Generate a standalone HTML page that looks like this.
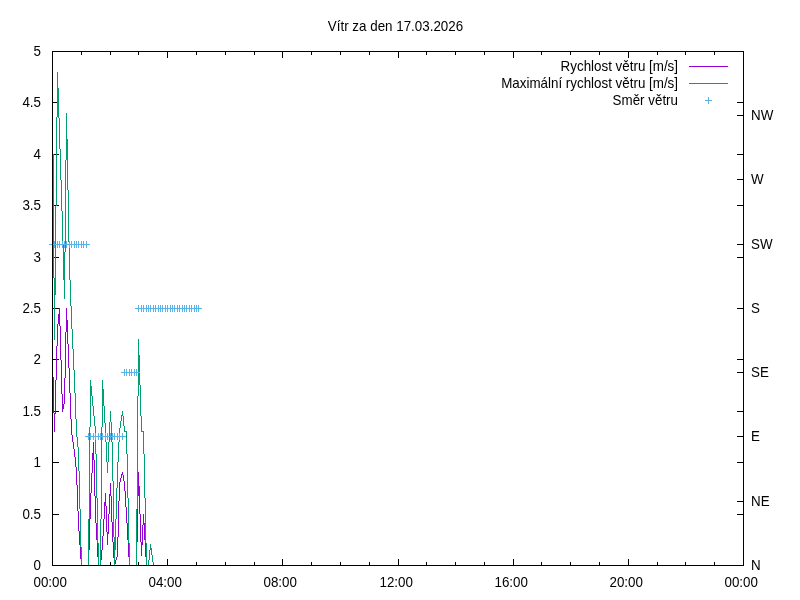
<!DOCTYPE html>
<html><head><meta charset="utf-8"><style>html,body{margin:0;padding:0;background:#fff;width:800px;height:600px;overflow:hidden}svg{display:block;will-change:transform}path{shape-rendering:crispEdges}</style></head>
<body><svg width="800" height="600" viewBox="0 0 800 600">
<rect width="800" height="600" fill="#fff"/>
<path d="M53,102h6v1h-6zM737,102h6v1h-6zM737,115h6v1h-6zM53,154h6v1h-6zM737,154h6v1h-6zM737,179h6v1h-6zM53,205h6v1h-6zM737,205h6v1h-6zM737,244h6v1h-6zM53,257h6v1h-6zM737,257h6v1h-6zM53,308h6v1h-6zM737,308h6v1h-6zM53,359h6v1h-6zM737,359h6v1h-6zM737,372h6v1h-6zM53,411h6v1h-6zM737,411h6v1h-6zM737,436h6v1h-6zM53,462h6v1h-6zM737,462h6v1h-6zM737,501h6v1h-6zM53,514h6v1h-6zM737,514h6v1h-6zM81,52h1v3h-1zM81,562h1v3h-1zM110,52h1v3h-1zM110,562h1v3h-1zM138,52h1v3h-1zM138,562h1v3h-1zM167,52h1v6h-1zM167,559h1v6h-1zM196,52h1v3h-1zM196,562h1v3h-1zM225,52h1v3h-1zM225,562h1v3h-1zM254,52h1v3h-1zM254,562h1v3h-1zM282,52h1v6h-1zM282,559h1v6h-1zM311,52h1v3h-1zM311,562h1v3h-1zM340,52h1v3h-1zM340,562h1v3h-1zM369,52h1v3h-1zM369,562h1v3h-1zM398,52h1v6h-1zM398,559h1v6h-1zM426,52h1v3h-1zM426,562h1v3h-1zM455,52h1v3h-1zM455,562h1v3h-1zM484,52h1v3h-1zM484,562h1v3h-1zM513,52h1v6h-1zM513,559h1v6h-1zM541,52h1v3h-1zM541,562h1v3h-1zM570,52h1v3h-1zM570,562h1v3h-1zM599,52h1v3h-1zM599,562h1v3h-1zM628,52h1v6h-1zM628,559h1v6h-1zM657,52h1v3h-1zM657,562h1v3h-1zM685,52h1v3h-1zM685,562h1v3h-1zM714,52h1v3h-1zM714,562h1v3h-1z" fill="#000"/>
<path d="M81,565h8v1h-8zM98,565h3v1h-3zM129,565h8v1h-8zM146,565h53v1h-53zM52,359h1v18h-1zM53,377h1v36h-1zM54,413h1v19h-1zM55,380h1v34h-1zM56,346h1v34h-1zM57,324h1v22h-1zM58,314h1v10h-1zM59,308h1v18h-1zM60,326h1v34h-1zM61,360h1v34h-1zM62,394h1v18h-1zM63,404h1v5h-1zM64,378h1v26h-1zM65,332h1v46h-1zM66,308h1v24h-1zM67,320h1v24h-1zM68,344h1v24h-1zM69,368h1v25h-1zM70,393h1v26h-1zM71,419h1v16h-1zM72,435h1v7h-1zM73,442h1v7h-1zM74,449h1v8h-1zM75,457h1v10h-1zM76,467h1v18h-1zM77,485h1v26h-1zM78,511h1v20h-1zM79,531h1v14h-1zM80,545h1v14h-1zM81,559h1v6h-1zM88,550h1v15h-1zM89,519h1v31h-1zM90,493h1v26h-1zM91,473h1v20h-1zM92,453h1v20h-1zM93,442h1v18h-1zM94,460h1v36h-1zM95,496h1v27h-1zM96,523h1v17h-1zM97,540h1v17h-1zM98,557h1v8h-1zM100,560h1v5h-1zM101,550h1v10h-1zM102,536h1v14h-1zM103,519h1v17h-1zM104,502h1v17h-1zM105,493h1v13h-1zM106,506h1v26h-1zM107,532h1v13h-1zM108,514h1v20h-1zM109,494h1v20h-1zM110,483h1v13h-1zM111,496h1v26h-1zM112,522h1v20h-1zM113,542h1v16h-1zM114,558h1v8h-1zM115,560h1v4h-1zM116,557h1v3h-1zM117,537h1v20h-1zM118,501h1v36h-1zM119,482h1v19h-1zM120,478h1v4h-1zM121,474h1v4h-1zM122,472h1v3h-1zM123,475h1v6h-1zM124,481h1v10h-1zM125,491h1v16h-1zM126,507h1v16h-1zM127,523h1v17h-1zM128,540h1v17h-1zM129,557h1v8h-1zM136,542h1v23h-1zM137,496h1v46h-1zM138,472h1v24h-1zM139,486h1v28h-1zM140,514h1v28h-1zM141,542h1v14h-1zM142,525h1v20h-1zM143,514h1v11h-1zM144,523h1v17h-1zM145,540h1v17h-1zM146,557h1v8h-1z" fill="#9400d3"/>
<path d="M124,431h3v1h-3zM141,431h3v1h-3zM81,565h8v1h-8zM98,565h3v1h-3zM129,565h8v1h-8zM146,565h3v1h-3zM153,565h46v1h-46zM52,92h1v62h-1zM53,154h1v124h-1zM54,278h1v62h-1zM55,206h1v89h-1zM56,117h1v89h-1zM57,72h1v45h-1zM58,88h1v30h-1zM59,118h1v31h-1zM60,149h1v31h-1zM61,180h1v31h-1zM62,211h1v33h-1zM63,244h1v36h-1zM64,252h1v47h-1zM65,160h1v92h-1zM66,113h1v47h-1zM67,139h1v51h-1zM68,190h1v52h-1zM69,242h1v38h-1zM70,280h1v26h-1zM71,306h1v23h-1zM72,329h1v20h-1zM73,349h1v21h-1zM74,370h1v23h-1zM75,393h1v26h-1zM76,419h1v18h-1zM77,437h1v10h-1zM78,447h1v24h-1zM79,471h1v38h-1zM80,509h1v38h-1zM81,547h1v18h-1zM88,519h1v46h-1zM89,427h1v92h-1zM90,380h1v47h-1zM91,386h1v10h-1zM92,396h1v10h-1zM93,406h1v10h-1zM94,416h1v10h-1zM95,426h1v28h-1zM96,454h1v44h-1zM97,498h1v45h-1zM98,543h1v22h-1zM100,519h1v46h-1zM101,427h1v92h-1zM102,380h1v47h-1zM103,389h1v17h-1zM104,406h1v17h-1zM105,423h1v19h-1zM106,442h1v20h-1zM107,462h1v11h-1zM108,442h1v20h-1zM109,422h1v20h-1zM110,411h1v11h-1zM111,422h1v20h-1zM112,442h1v39h-1zM113,481h1v56h-1zM114,537h1v29h-1zM115,519h1v31h-1zM116,488h1v31h-1zM117,462h1v26h-1zM118,442h1v20h-1zM119,428h1v14h-1zM120,421h1v7h-1zM121,415h1v6h-1zM122,411h1v5h-1zM123,416h1v10h-1zM124,426h1v5h-1zM126,432h1v22h-1zM127,454h1v44h-1zM128,498h1v45h-1zM129,543h1v22h-1zM136,509h1v56h-1zM137,396h1v113h-1zM138,339h1v57h-1zM139,355h1v30h-1zM140,385h1v31h-1zM141,416h1v15h-1zM143,432h1v22h-1zM144,454h1v44h-1zM145,498h1v45h-1zM146,543h1v22h-1zM148,560h1v5h-1zM149,550h1v10h-1zM150,544h1v6h-1zM151,548h1v7h-1zM152,555h1v7h-1zM153,562h1v3h-1z" fill="#009e73"/>
<path d="M49,244h41v1h-41zM135,308h67v1h-67zM121,372h19v1h-19zM85,436h41v1h-41zM52,241h1v3h-1zM52,245h1v3h-1zM54,241h1v3h-1zM54,245h1v3h-1zM57,241h1v3h-1zM57,245h1v3h-1zM59,241h1v3h-1zM59,245h1v3h-1zM62,241h1v3h-1zM62,245h1v3h-1zM64,241h1v3h-1zM64,245h1v3h-1zM66,241h1v3h-1zM66,245h1v3h-1zM69,241h1v3h-1zM69,245h1v3h-1zM71,241h1v3h-1zM71,245h1v3h-1zM74,241h1v3h-1zM74,245h1v3h-1zM76,241h1v3h-1zM76,245h1v3h-1zM78,241h1v3h-1zM78,245h1v3h-1zM81,241h1v3h-1zM81,245h1v3h-1zM83,241h1v3h-1zM83,245h1v3h-1zM86,241h1v3h-1zM86,245h1v3h-1zM88,433h1v3h-1zM88,437h1v3h-1zM90,433h1v3h-1zM90,437h1v3h-1zM93,433h1v3h-1zM93,437h1v3h-1zM95,433h1v3h-1zM95,437h1v3h-1zM98,433h1v3h-1zM98,437h1v3h-1zM100,433h1v3h-1zM100,437h1v3h-1zM102,433h1v3h-1zM102,437h1v3h-1zM105,433h1v3h-1zM105,437h1v3h-1zM107,433h1v3h-1zM107,437h1v3h-1zM110,433h1v3h-1zM110,437h1v3h-1zM112,433h1v3h-1zM112,437h1v3h-1zM114,433h1v3h-1zM114,437h1v3h-1zM117,433h1v3h-1zM117,437h1v3h-1zM119,433h1v3h-1zM119,437h1v3h-1zM122,433h1v3h-1zM122,437h1v3h-1zM124,369h1v3h-1zM124,373h1v3h-1zM126,369h1v3h-1zM126,373h1v3h-1zM129,369h1v3h-1zM129,373h1v3h-1zM131,369h1v3h-1zM131,373h1v3h-1zM134,369h1v3h-1zM134,373h1v3h-1zM136,369h1v3h-1zM136,373h1v3h-1zM138,305h1v3h-1zM138,309h1v3h-1zM141,305h1v3h-1zM141,309h1v3h-1zM143,305h1v3h-1zM143,309h1v3h-1zM146,305h1v3h-1zM146,309h1v3h-1zM148,305h1v3h-1zM148,309h1v3h-1zM150,305h1v3h-1zM150,309h1v3h-1zM153,305h1v3h-1zM153,309h1v3h-1zM155,305h1v3h-1zM155,309h1v3h-1zM158,305h1v3h-1zM158,309h1v3h-1zM160,305h1v3h-1zM160,309h1v3h-1zM162,305h1v3h-1zM162,309h1v3h-1zM165,305h1v3h-1zM165,309h1v3h-1zM167,305h1v3h-1zM167,309h1v3h-1zM170,305h1v3h-1zM170,309h1v3h-1zM172,305h1v3h-1zM172,309h1v3h-1zM174,305h1v3h-1zM174,309h1v3h-1zM177,305h1v3h-1zM177,309h1v3h-1zM179,305h1v3h-1zM179,309h1v3h-1zM182,305h1v3h-1zM182,309h1v3h-1zM184,305h1v3h-1zM184,309h1v3h-1zM186,305h1v3h-1zM186,309h1v3h-1zM189,305h1v3h-1zM189,309h1v3h-1zM191,305h1v3h-1zM191,309h1v3h-1zM194,305h1v3h-1zM194,309h1v3h-1zM196,305h1v3h-1zM196,309h1v3h-1zM198,305h1v3h-1zM198,309h1v3h-1z" fill="#56b4e9"/>
<path d="M52,51h692v1h-692zM52,565h692v1h-692zM52,52h1v513h-1zM743,52h1v513h-1z" fill="#000"/>
<g style="font-family:'Liberation Sans',Arial,sans-serif;font-size:13.8px" fill="#000"><text transform="translate(41.00,570.00) scale(0.97,1)" text-anchor="end">0</text><text transform="translate(41.00,519.00) scale(0.97,1)" text-anchor="end">0.5</text><text transform="translate(41.00,467.00) scale(0.97,1)" text-anchor="end">1</text><text transform="translate(41.00,416.00) scale(0.97,1)" text-anchor="end">1.5</text><text transform="translate(41.00,364.00) scale(0.97,1)" text-anchor="end">2</text><text transform="translate(41.00,313.00) scale(0.97,1)" text-anchor="end">2.5</text><text transform="translate(41.00,262.00) scale(0.97,1)" text-anchor="end">3</text><text transform="translate(41.00,210.00) scale(0.97,1)" text-anchor="end">3.5</text><text transform="translate(41.00,159.00) scale(0.97,1)" text-anchor="end">4</text><text transform="translate(41.00,107.00) scale(0.97,1)" text-anchor="end">4.5</text><text transform="translate(41.00,56.00) scale(0.97,1)" text-anchor="end">5</text><text transform="translate(751.00,570.00) scale(0.97,1)">N</text><text transform="translate(751.00,506.00) scale(0.97,1)">NE</text><text transform="translate(751.00,441.00) scale(0.97,1)">E</text><text transform="translate(751.00,377.00) scale(0.97,1)">SE</text><text transform="translate(751.00,313.00) scale(0.97,1)">S</text><text transform="translate(751.00,249.00) scale(0.97,1)">SW</text><text transform="translate(751.00,184.00) scale(0.97,1)">W</text><text transform="translate(751.00,120.00) scale(0.97,1)">NW</text><text transform="translate(50.20,587.00) scale(0.97,1)" text-anchor="middle">00:00</text><text transform="translate(165.20,587.00) scale(0.97,1)" text-anchor="middle">04:00</text><text transform="translate(280.20,587.00) scale(0.97,1)" text-anchor="middle">08:00</text><text transform="translate(396.20,587.00) scale(0.97,1)" text-anchor="middle">12:00</text><text transform="translate(511.20,587.00) scale(0.97,1)" text-anchor="middle">16:00</text><text transform="translate(626.20,587.00) scale(0.97,1)" text-anchor="middle">20:00</text><text transform="translate(741.20,587.00) scale(0.97,1)" text-anchor="middle">00:00</text><text transform="translate(395.50,31.00) scale(0.97,1)" text-anchor="middle">Vítr za den 17.03.2026</text><text transform="translate(678.00,71.00) scale(0.97,1)" text-anchor="end">Rychlost větru [m/s]</text><text transform="translate(678.00,88.00) scale(0.97,1)" text-anchor="end">Maximální rychlost větru [m/s]</text><text transform="translate(678.00,105.00) scale(0.97,1)" text-anchor="end">Směr větru</text></g>
<path d="M689,66h39v1h-39z" fill="#9400d3"/>
<path d="M689,83h39v1h-39z" fill="#009e73"/>
<path d="M705,100h7v1h-7zM708,97h1v3h-1zM708,101h1v3h-1z" fill="#56b4e9"/>
</svg></body></html>
